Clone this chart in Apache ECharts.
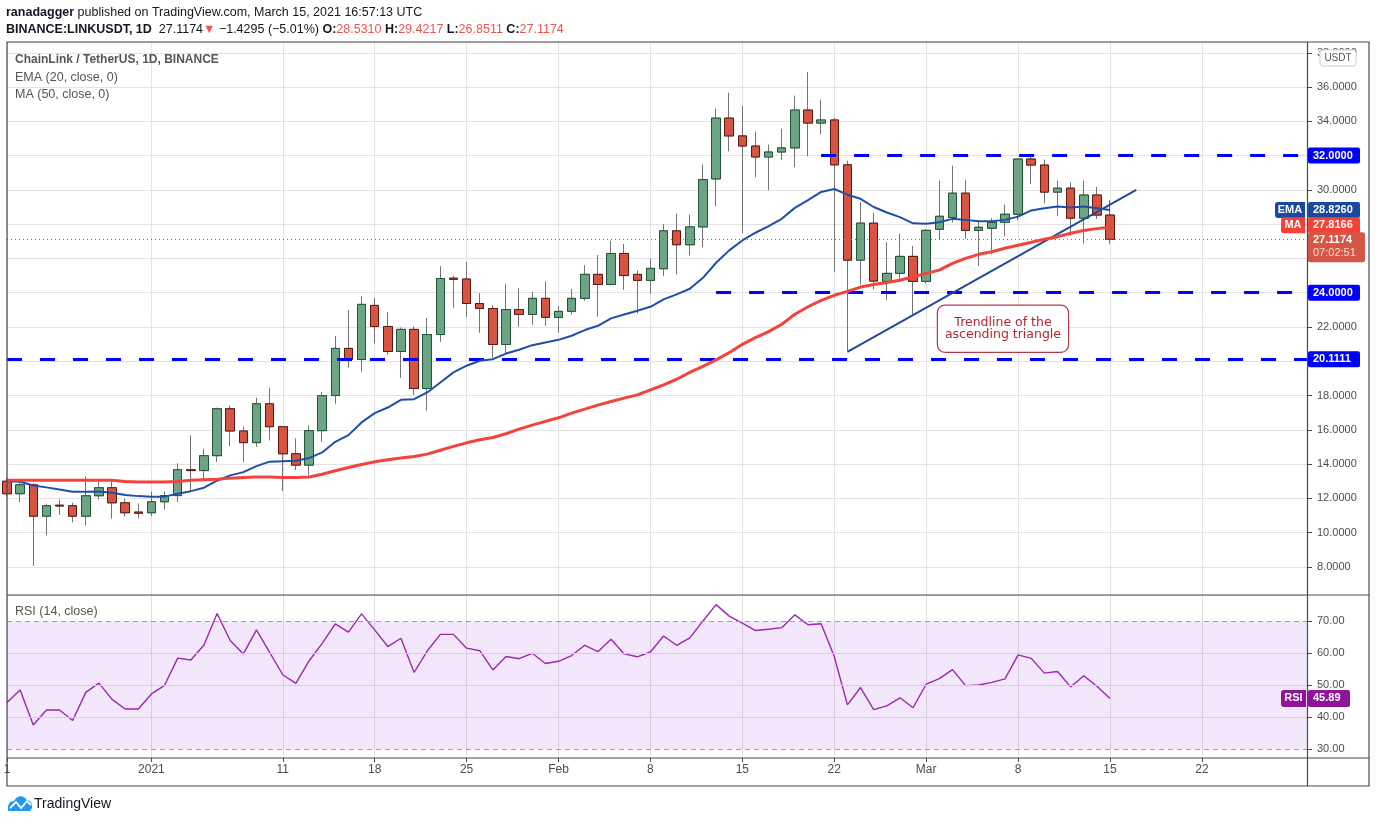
<!doctype html>
<html>
<head>
    <meta charset="utf-8">
    <title>LINKUSDT 1D</title>
    <script src="https://cdn.jsdelivr.net/npm/echarts@6/dist/echarts.min.js"></script>
    <style>
        html, body { margin: 0; padding: 0; background: #fff; }
        #main { width: 1376px; height: 823px; }
    </style>
</head>
<body>
<div id="main"></div>
<script type="text/javascript">
// 日期（含右侧空白的未来日期）
var dates = [
    '2020-12-21','2020-12-22','2020-12-23','2020-12-24','2020-12-25','2020-12-26','2020-12-27','2020-12-28','2020-12-29','2020-12-30','2020-12-31',
    '2021-01-01','2021-01-02','2021-01-03','2021-01-04','2021-01-05','2021-01-06','2021-01-07','2021-01-08','2021-01-09','2021-01-10',
    '2021-01-11','2021-01-12','2021-01-13','2021-01-14','2021-01-15','2021-01-16','2021-01-17','2021-01-18','2021-01-19','2021-01-20',
    '2021-01-21','2021-01-22','2021-01-23','2021-01-24','2021-01-25','2021-01-26','2021-01-27','2021-01-28','2021-01-29','2021-01-30','2021-01-31',
    '2021-02-01','2021-02-02','2021-02-03','2021-02-04','2021-02-05','2021-02-06','2021-02-07','2021-02-08','2021-02-09','2021-02-10',
    '2021-02-11','2021-02-12','2021-02-13','2021-02-14','2021-02-15','2021-02-16','2021-02-17','2021-02-18','2021-02-19','2021-02-20',
    '2021-02-21','2021-02-22','2021-02-23','2021-02-24','2021-02-25','2021-02-26','2021-02-27','2021-02-28',
    '2021-03-01','2021-03-02','2021-03-03','2021-03-04','2021-03-05','2021-03-06','2021-03-07','2021-03-08','2021-03-09','2021-03-10',
    '2021-03-11','2021-03-12','2021-03-13','2021-03-14','2021-03-15','2021-03-16','2021-03-17','2021-03-18','2021-03-19','2021-03-20',
    '2021-03-21','2021-03-22','2021-03-23','2021-03-24','2021-03-25','2021-03-26','2021-03-27','2021-03-28','2021-03-29','2021-03-30'
];

// K线 开 收 低 高
var openP = [13.0,12.27,12.79,10.96,11.6,11.57,10.96,12.15,12.62,11.74,
    11.2,11.16,11.8,12.16,13.67,13.62,14.49,17.23,15.93,15.25,
    17.52,16.18,14.6,13.94,15.95,18.0,20.75,20.1,23.26,22.03,
    20.57,21.86,18.41,21.56,24.85,24.8,23.37,23.08,20.98,23.02,
    22.73,23.67,22.56,22.91,23.67,25.07,24.48,26.29,25.07,24.72,
    25.4,27.61,26.8,27.84,30.64,34.19,33.15,32.56,31.92,32.21,
    32.45,34.66,33.9,34.08,31.46,25.9,28.06,24.66,25.13,26.12,
    24.66,27.7,28.39,29.81,27.64,27.76,28.11,28.58,31.8,31.45,
    29.87,30.1,28.35,29.7,28.531];
var closeP = [12.27,12.79,10.96,11.57,11.55,10.96,12.15,12.62,11.74,11.16,
    11.13,11.8,12.16,13.67,13.62,14.49,17.23,15.93,15.25,17.52,
    16.18,14.6,13.94,15.95,17.99,20.75,20.1,23.32,22.03,20.57,
    21.86,18.41,21.56,24.83,24.78,23.37,23.08,20.98,23.02,22.73,
    23.67,22.56,22.91,23.67,25.07,24.48,26.29,25.0,24.72,25.42,
    27.61,26.8,27.84,30.6,34.19,33.15,32.56,31.92,32.21,32.45,
    34.66,33.9,34.08,31.46,25.9,28.06,24.68,25.13,26.12,24.66,
    27.64,28.46,29.81,27.64,27.82,28.11,28.58,31.8,31.45,29.87,
    30.1,28.35,29.7,28.53,27.1174];
var lowP = [12.1,11.78,8.05,9.84,11.03,10.6,10.42,11.94,10.81,10.96,
    10.83,10.96,11.35,11.78,12.37,13.05,14.12,15.05,14.12,15.0,
    15.38,12.43,13.65,13.34,15.3,17.52,19.62,19.39,21.04,20.38,
    19.03,18.04,17.11,21.13,23.12,22.6,21.66,20.22,20.46,22.01,
    22.13,22.07,21.66,22.71,23.53,22.6,24.42,24.17,22.79,23.94,
    24.97,25.07,26.17,26.66,29.05,32.25,27.48,30.74,29.98,31.73,
    31.32,31.96,33.24,25.2,20.6,24.48,24.2,23.58,24.81,22.72,
    24.54,27.06,28.09,27.14,25.57,26.24,27.3,28.23,30.34,29.23,
    28.48,27.33,26.86,28.3,26.8511];
var highP = [13.2,12.95,12.87,11.69,11.94,11.75,13.28,12.95,13.01,11.98,
    11.71,12.4,12.39,14.04,15.67,14.91,17.29,17.42,16.18,17.87,
    18.46,16.22,15.5,16.26,18.2,21.47,22.98,23.8,23.68,22.87,
    21.97,22.03,22.52,25.55,24.97,25.79,23.98,23.28,24.5,24.27,
    24.04,24.66,23.22,24.21,25.61,26.2,27.03,26.84,25.3,26.0,
    28.0,28.62,28.56,31.48,34.74,35.67,34.91,33.4,32.64,33.57,
    35.5,36.87,35.26,34.23,31.71,29.3,28.66,26.96,27.43,26.73,
    27.72,30.54,31.41,30.59,28.17,28.35,29.13,31.8,32.06,31.77,
    30.54,30.44,30.54,30.18,29.4217];

// EMA(20) 与 MA(50)
var ema20 = [13.0,12.97,12.75,12.64,12.52,12.39,12.39,12.4,12.33,12.2,
    12.13,12.1,12.1,12.27,12.42,12.62,13.03,13.34,13.53,13.88,
    14.14,14.17,14.2,14.35,14.68,15.3,15.69,16.43,16.97,17.3,
    17.75,17.79,18.18,18.76,19.35,19.74,20.03,20.12,20.45,20.67,
    20.94,21.1,21.25,21.49,21.82,22.07,22.5,22.73,22.95,23.18,
    23.61,23.9,24.23,24.87,25.75,26.47,27.05,27.5,27.88,28.31,
    28.95,29.4,29.88,30.05,29.72,29.48,29.0,28.68,28.41,28.05,
    28.02,28.11,28.31,28.25,28.17,28.17,28.25,28.44,28.8,28.93,
    29.03,28.97,29.03,28.93,28.826];
var ma50 = [13.05,13.05,13.05,13.05,13.05,13.05,13.05,13.05,13.05,12.98,
    12.95,12.95,12.95,12.99,13.05,13.09,13.12,13.18,13.22,13.24,
    13.24,13.22,13.21,13.25,13.41,13.61,13.8,13.98,14.13,14.25,
    14.35,14.44,14.58,14.81,15.03,15.24,15.42,15.55,15.77,16.04,
    16.27,16.49,16.7,16.97,17.21,17.44,17.65,17.85,18.04,18.33,
    18.62,18.95,19.35,19.7,20.08,20.5,20.99,21.38,21.73,22.16,
    22.74,23.18,23.55,23.85,24.08,24.33,24.48,24.6,24.73,24.93,
    25.13,25.32,25.71,26.0,26.24,26.39,26.59,26.77,26.94,27.12,
    27.27,27.47,27.63,27.74,27.8166];

// RSI(14)
var rsi14 = [44.6,48.5,37.6,42.3,42.3,39.0,47.8,50.7,45.6,42.6,
    42.6,47.3,50.0,58.5,57.9,62.6,72.4,64.0,59.8,67.3,
    60.3,53.3,50.6,57.6,63.1,69.2,66.6,72.3,67.3,62.1,
    64.7,54.0,60.7,65.9,65.9,61.6,60.8,54.8,59.0,58.3,
    60.0,56.8,57.5,59.3,62.5,60.5,64.4,59.8,58.9,60.4,
    65.4,62.5,64.8,70.1,75.2,71.6,69.4,67.1,67.5,68.0,
    72.0,68.9,69.2,59.0,43.9,49.3,42.4,43.6,46.1,43.0,
    50.4,52.1,54.9,49.9,50.1,50.9,52.0,59.5,58.4,53.8,
    54.3,49.5,53.0,49.7,45.89];

// 横向关键价位（起点日期，价格）
var levelStart = ['2021-02-21', '2021-02-13', '2020-12-21'];
var levelPrice = [32.0, 24.0, 20.1111];
// 上升三角形趋势线
var trendDates = ['2021-02-23', '2021-03-17'];
var trendPrice = [20.55, 30.0];
// 时间轴刻度
var tickDates = ['2020-12-21','2021-01-01','2021-01-11','2021-01-18','2021-01-25','2021-02-01','2021-02-08','2021-02-15','2021-02-22','2021-03-01','2021-03-08','2021-03-15','2021-03-22'];
var tickTexts = ['1','2021','11','18','25','Feb','8','15','22','Mar','8','15','22'];

var lastPrice = closeP[closeP.length - 1];
var lastDate = dates[dates.length - 1];

var kData = [], bodyData = [];
for (var i = 0; i < openP.length; i++) {
    kData.push([openP[i], closeP[i], lowP[i], highP[i]]);
    bodyData.push([openP[i], closeP[i], Math.min(openP[i], closeP[i]), Math.max(openP[i], closeP[i])]);
}

var levelLines = [];
for (var j = 0; j < levelPrice.length; j++) {
    levelLines.push([{coord: [levelStart[j], levelPrice[j]]}, {coord: [lastDate, levelPrice[j]]}]);
}

var isTick = function (index, value) { return tickDates.indexOf(value) >= 0; };
var FONT = 'Liberation Sans';

var myChart = echarts.init(document.getElementById('main'));

var option = {
    animation: false,
    textStyle: { fontFamily: FONT },
    grid: [
        { left: 7, top: 42, width: 1300, height: 553, show: false },
        { left: 7, top: 595, width: 1300, height: 163, show: false }
    ],
    xAxis: [
        {
            type: 'category', gridIndex: 0, data: dates, boundaryGap: false,
            axisLine: { show: false }, axisTick: { show: false }, axisLabel: { show: false },
            splitLine: { show: true, interval: isTick, lineStyle: { color: '#e3e3e3', width: 1 } }
        },
        {
            type: 'category', gridIndex: 1, data: dates, boundaryGap: false,
            axisLine: { show: false },
            axisTick: { show: true, interval: isTick, length: 4, lineStyle: { color: '#4a4a4a' } },
            axisLabel: {
                show: true, interval: isTick, margin: 6, color: '#4c4c4c', fontSize: 12, fontFamily: FONT,
                formatter: function (v) { var k = tickDates.indexOf(v); return k >= 0 ? tickTexts[k] : ''; }
            },
            splitLine: { show: true, interval: isTick, lineStyle: { color: '#e0e0e0', width: 1 } }
        }
    ],
    yAxis: [
        {
            type: 'value', gridIndex: 0, position: 'right', min: 6.36, max: 38.63, splitNumber: 16,
            axisLine: { show: false },
            axisTick: { show: true, length: 5, lineStyle: { color: '#4a4a4a' } },
            axisLabel: {
                margin: 10, color: '#4c4c4c', fontSize: 11, fontFamily: FONT,
                showMinLabel: false, showMaxLabel: false,
                formatter: function (v) { return v.toFixed(4); }
            },
            splitLine: { show: true, lineStyle: { color: '#e3e3e3', width: 1 } }
        },
        {
            type: 'value', gridIndex: 1, position: 'right', min: 27.3, max: 78.2, splitNumber: 5,
            axisLine: { show: false },
            axisTick: { show: true, length: 5, lineStyle: { color: '#4a4a4a' } },
            axisLabel: {
                margin: 10, color: '#4c4c4c', fontSize: 11, fontFamily: FONT,
                showMinLabel: false, showMaxLabel: false,
                formatter: function (v) { return v.toFixed(2); }
            },
            splitLine: { show: false }
        }
    ],
    series: [
        {   // 影线（灰色）
            name: 'wick', type: 'candlestick', xAxisIndex: 0, yAxisIndex: 0, barWidth: 9,
            data: kData,
            itemStyle: { color: '#737375', color0: '#737375', borderColor: '#737375', borderColor0: '#737375', borderWidth: 1 },
            markLine: {
                silent: true, symbol: 'none', animation: false,
                label: { show: false },
                lineStyle: { color: '#0000ff', width: 3, type: [15, 18] },
                data: levelLines
            },
            z: 3
        },
        {   // 实体
            name: 'body', type: 'candlestick', xAxisIndex: 0, yAxisIndex: 0, barWidth: 9,
            data: bodyData,
            itemStyle: { color: '#6ba583', color0: '#d75442', borderColor: '#225437', borderColor0: '#5b1a13', borderWidth: 1 },
            markLine: {
                silent: true, symbol: 'none', animation: false,
                label: { show: false },
                data: [
                    [{ coord: [trendDates[0], trendPrice[0]], lineStyle: { color: '#1f4b99', width: 2, type: 'solid' } },
                     { coord: [trendDates[1], trendPrice[1]] }],
                    { yAxis: lastPrice, lineStyle: { color: '#e0453a', width: 1, type: [1, 3] } }
                ]
            },
            markPoint: {
                silent: true, symbol: 'rect', symbolSize: 0,
                data: [{
                    coord: ['2021-03-07', 21.9],
                    label: {
                        show: true, position: 'inside', offset: [-2, 0],
                        formatter: 'Trendline of the\nascending triangle',
                        color: '#b2272e', fontSize: 12.5, lineHeight: 12, fontFamily: 'DejaVu Sans',
                        align: 'center', verticalAlign: 'middle',
                        backgroundColor: '#fff', borderColor: '#b23a46', borderWidth: 1.2, borderRadius: 7,
                        width: 110, padding: [11, 10, 11, 10]
                    }
                }]
            },
            z: 4
        },
        {
            name: 'EMA', type: 'line', xAxisIndex: 0, yAxisIndex: 0, data: ema20,
            showSymbol: false, lineStyle: { color: '#1e4fa8', width: 2 }, z: 5
        },
        {
            name: 'MA', type: 'line', xAxisIndex: 0, yAxisIndex: 0, data: ma50,
            showSymbol: false, lineStyle: { color: '#f4433a', width: 3 }, z: 5
        },
        {
            name: 'RSI', type: 'line', xAxisIndex: 1, yAxisIndex: 1, data: rsi14,
            showSymbol: false, lineStyle: { color: '#9c27b0', width: 1.4 },
            markArea: {
                silent: true,
                itemStyle: { color: 'rgba(155, 60, 230, 0.12)' },
                data: [[{ yAxis: 30 }, { yAxis: 70 }]]
            },
            markLine: {
                silent: true, symbol: 'none', label: { show: false },
                data: [
                    { yAxis: 30, lineStyle: { color: '#a39aa8', width: 1, type: [5, 4] } },
                    { yAxis: 70, lineStyle: { color: '#a39aa8', width: 1, type: [5, 4] } },
                    { yAxis: 40, lineStyle: { color: '#dccbe6', width: 1, type: 'solid' } },
                    { yAxis: 50, lineStyle: { color: '#dccbe6', width: 1, type: 'solid' } },
                    { yAxis: 60, lineStyle: { color: '#dccbe6', width: 1, type: 'solid' } }
                ]
            }
        }
    ]
};

myChart.setOption(option);

// 右侧价格标签、标题、边框
function valueBox(y, txt, bg) {
    return [
        { type: 'rect', z: 200, shape: { x: 1308, y: y - 8, width: 52, height: 16, r: 2 }, style: { fill: bg } },
        { type: 'text', z: 201, x: 1313, y: y, style: { text: txt, fill: '#fff', font: 'bold 11px ' + FONT, verticalAlign: 'middle' } }
    ];
}
function tagBox(y, txt, bg, w) {
    return [
        { type: 'rect', z: 200, shape: { x: 1305 - w, y: y - 8, width: w, height: 16, r: [3, 0, 0, 3] }, style: { fill: bg } },
        { type: 'text', z: 201, x: 1305 - w / 2, y: y, style: { text: txt, fill: '#fff', font: 'bold 11px ' + FONT, align: 'center', verticalAlign: 'middle' } }
    ];
}

var py = function (v) { return myChart.convertToPixel({ yAxisIndex: 0 }, v); };
var ry = function (v) { return myChart.convertToPixel({ yAxisIndex: 1 }, v); };

var g = [];
for (var m = 0; m < levelPrice.length; m++) {
    g = g.concat(valueBox(py(levelPrice[m]), levelPrice[m].toFixed(4), '#0000ff'));
}
var emaLast = ema20[ema20.length - 1], maLast = ma50[ma50.length - 1];
g = g.concat(tagBox(py(emaLast), 'EMA', '#1848a0', 30), valueBox(py(emaLast), emaLast.toFixed(4), '#1848a0'));
g = g.concat(tagBox(py(maLast) - 2, 'MA', '#f44336', 24), valueBox(py(maLast) - 2, maLast.toFixed(4), '#f44336'));
var lp = py(lastPrice);
g.push({ type: 'rect', z: 200, shape: { x: 1308, y: lp - 7, width: 57, height: 30, r: 2 }, style: { fill: '#d55645' } });
g.push({ type: 'text', z: 201, x: 1313, y: lp + 1, style: { text: lastPrice.toFixed(4), fill: '#fff', font: 'bold 11px ' + FONT, verticalAlign: 'middle' } });
g.push({ type: 'text', z: 201, x: 1313, y: lp + 14, style: { text: '07:02:51', fill: '#f6dcd8', font: '11px ' + FONT, verticalAlign: 'middle' } });
// USDT
g.push({ type: 'rect', z: 200, shape: { x: 1320, y: 50, width: 36, height: 16, r: 3 }, style: { fill: '#fff', stroke: '#cfcfcf', lineWidth: 1 } });
g.push({ type: 'text', z: 201, x: 1338, y: 58, style: { text: 'USDT', fill: '#555', font: '10px ' + FONT, align: 'center', verticalAlign: 'middle' } });
// RSI 标签
var rLast = rsi14[rsi14.length - 1];
g.push({ type: 'rect', z: 200, shape: { x: 1281, y: ry(rLast) - 8.5, width: 25, height: 17, r: [3, 0, 0, 3] }, style: { fill: '#8e1599' } });
g.push({ type: 'text', z: 201, x: 1293.5, y: ry(rLast), style: { text: 'RSI', fill: '#fff', font: 'bold 11px ' + FONT, align: 'center', verticalAlign: 'middle' } });
g.push({ type: 'rect', z: 200, shape: { x: 1308, y: ry(rLast) - 8.5, width: 42, height: 17, r: 2 }, style: { fill: '#8e1599' } });
g.push({ type: 'text', z: 201, x: 1313, y: ry(rLast), style: { text: rLast.toFixed(2), fill: '#fff', font: 'bold 11px ' + FONT, verticalAlign: 'middle' } });

// 边框
var frame = '#4a4a4a';
g.push({ type: 'rect', z: 150, shape: { x: 7, y: 42, width: 1362, height: 744 }, style: { fill: 'none', stroke: frame, lineWidth: 1.2 } });
g.push({ type: 'line', z: 150, shape: { x1: 7, y1: 595, x2: 1369, y2: 595 }, style: { stroke: frame, lineWidth: 1.2 } });
g.push({ type: 'line', z: 150, shape: { x1: 7, y1: 758, x2: 1369, y2: 758 }, style: { stroke: frame, lineWidth: 1.2 } });
g.push({ type: 'line', z: 150, shape: { x1: 1307.5, y1: 42, x2: 1307.5, y2: 786 }, style: { stroke: frame, lineWidth: 1.2 } });

// 顶部文字
g.push({ type: 'text', z: 201, x: 6, y: 13, style: {
    text: '{b|ranadagger} published on TradingView.com, March 15, 2021 16:57:13 UTC',
    fill: '#131722', font: '12.5px ' + FONT, verticalAlign: 'middle',
    rich: { b: { fontWeight: 'bold', fontSize: 12.5, fontFamily: FONT, fill: '#131722' } }
} });
g.push({ type: 'text', z: 201, x: 6, y: 30, style: {
    text: '{b|BINANCE:LINKUSDT, 1D}  27.1174{r|▼} −1.4295 (−5.01%) {b|O:}{r|28.5310} {b|H:}{r|29.4217} {b|L:}{r|26.8511} {b|C:}{r|27.1174}',
    fill: '#131722', font: '12.5px ' + FONT, verticalAlign: 'middle',
    rich: {
        b: { fontWeight: 'bold', fontSize: 12.5, fontFamily: FONT, fill: '#131722' },
        r: { fontSize: 12.5, fontFamily: FONT, fill: '#ef5350' }
    }
} });
var legendTxt = ['ChainLink / TetherUS, 1D, BINANCE', 'EMA (20, close, 0)', 'MA (50, close, 0)'];
for (var t = 0; t < legendTxt.length; t++) {
    g.push({ type: 'text', z: 201, x: 15, y: 60 + t * 17.5, style: { text: legendTxt[t], fill: '#555', font: (t === 0 ? 'bold 12px ' : '12.5px ') + FONT, verticalAlign: 'middle' } });
}
g.push({ type: 'text', z: 201, x: 15, y: 612, style: { text: 'RSI (14, close)', fill: '#555', font: '12.5px ' + FONT, verticalAlign: 'middle' } });

// TradingView 标志
g.push({ type: 'polygon', z: 201, shape: { points: [[8, 811], [8, 806], [10, 802], [14, 801], [16, 798], [20, 796], [24, 797], [27, 800], [30, 801], [32, 804], [32, 808], [30, 811]] }, style: { fill: '#2196f3' } });
g.push({ type: 'polyline', z: 202, shape: { points: [[10, 808], [16, 802], [21, 808], [27, 801], [31, 805]] }, style: { stroke: '#fff', lineWidth: 1.8, fill: null } });
g.push({ type: 'text', z: 201, x: 34, y: 804, style: { text: 'TradingView', fill: '#131722', font: '14px ' + FONT, verticalAlign: 'middle' } });

myChart.setOption({ graphic: g });
</script>
</body>
</html>
